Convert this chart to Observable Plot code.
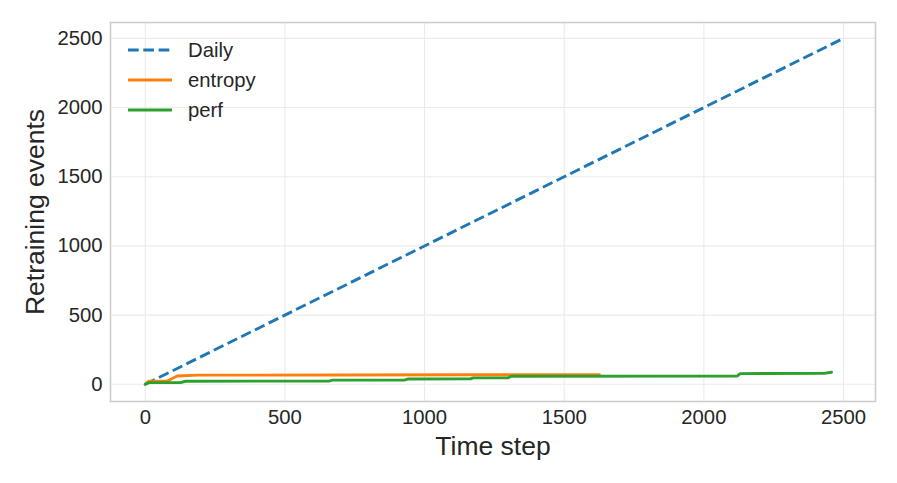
<!DOCTYPE html>
<html>
<head>
<meta charset="utf-8">
<script src="https://cdn.jsdelivr.net/npm/d3@7"></script>
<script src="https://cdn.jsdelivr.net/npm/@observablehq/plot@0.6"></script>
<style>
  html, body { margin: 0; padding: 0; background: white; }
  #chart { position: relative; width: 897px; height: 483px; }
</style>
</head>
<body>
<div id="chart"></div>
<script>
// ---- data ----
const xTicks = [0, 500, 1000, 1500, 2000, 2500];
const yTicks = [0, 500, 1000, 1500, 2000, 2500];

const dailyT = [0, 2490];
const dailyV = [0, 2490];

const entropyT = [0, 12, 78, 114, 186, 700, 1170, 1626];
const entropyV = [0, 22, 22, 60, 66, 67, 69, 70];

const perfT = [0, 12, 126, 144, 660, 670, 930, 940, 1165, 1175, 1300, 1310, 2120, 2130, 2430, 2457];
const perfV = [0, 12, 12, 22, 24, 30, 31, 38, 40, 46, 47, 58, 60, 77, 79, 87];

const seriesNames = ["Daily", "entropy", "perf"];
const seriesColors = ["#1f77b4", "#ff7f0e", "#2ca02c"];

const xLabel = "Time step";
const yLabel = "Retraining events";

// ---- build tables ----
const toRows = (T, V) => T.map((t, i) => ({t, v: V[i]}));
const daily = toRows(dailyT, dailyV);
const entropy = toRows(entropyT, entropyV);
const perf = toRows(perfT, perfV);

const font = "'Liberation Sans', Arial, sans-serif";
const textColor = "#262626";
const lw = 2.9;
const dash = "10.7,4.6";

const svg = Plot.plot({
  width: 897,
  height: 483,
  marginLeft: 110,
  marginRight: 22,
  marginTop: 22,
  marginBottom: 82,
  style: {fontFamily: font, fontSize: "20.3px", color: textColor, background: "white"},
  x: {domain: [-124.5, 2614.5], ticks: xTicks, tickSize: 0, tickPadding: 9, label: null},
  y: {domain: [-124.5, 2614.5], ticks: yTicks, tickSize: 0, tickPadding: 8, label: null},
  marks: [
    Plot.gridX(xTicks, {stroke: "#ebebeb", strokeOpacity: 1, strokeWidth: 1.1}),
    Plot.gridY(yTicks, {stroke: "#ebebeb", strokeOpacity: 1, strokeWidth: 1.1}),
    Plot.axisX(xTicks, {tickSize: 0, tickPadding: 8, fontSize: 20.3, label: null, tickFormat: d => String(d)}),
    Plot.axisY(yTicks, {tickSize: 0, tickPadding: 8, fontSize: 20.3, label: null, tickFormat: d => String(d)}),
    Plot.line(daily, {x: "t", y: "v", stroke: seriesColors[0], strokeWidth: lw, strokeDasharray: dash, strokeLinecap: "butt"}),
    Plot.line(entropy, {x: "t", y: "v", stroke: seriesColors[1], strokeWidth: lw, strokeLinejoin: "round"}),
    Plot.line(perf, {x: "t", y: "v", stroke: seriesColors[2], strokeWidth: lw, strokeLinejoin: "round"}),
    Plot.frame({stroke: "#cccccc", strokeWidth: 1.6}),
    Plot.text([xLabel], {frameAnchor: "bottom", dy: 45, fontSize: 26.5, fill: textColor, lineAnchor: "middle", textAnchor: "middle"}),
    Plot.text([yLabel], {frameAnchor: "left", dx: -75, rotate: -90, fontSize: 26.5, fill: textColor, lineAnchor: "middle", textAnchor: "middle"})
  ]
});

// ---- legend ----
const sel = d3.select(svg);
const lg = sel.append("g").attr("font-family", font).attr("font-size", 20.3)
  .attr("fill", textColor).attr("text-anchor", "start");
seriesNames.forEach((name, i) => {
  const y = 50 + i * 30;
  lg.append("line")
    .attr("x1", 128).attr("x2", 172).attr("y1", y).attr("y2", y)
    .attr("stroke", seriesColors[i]).attr("stroke-width", lw)
    .attr("stroke-dasharray", i === 0 ? dash : null);
  lg.append("text").attr("x", 188).attr("y", y).attr("dy", "0.35em")
    .attr("text-anchor", "start").text(name);
});

document.getElementById("chart").appendChild(svg);
</script>
</body>
</html>
